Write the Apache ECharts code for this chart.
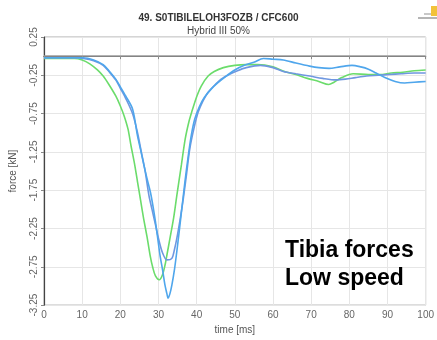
<!DOCTYPE html>
<html><head><meta charset="utf-8">
<script src="https://cdn.jsdelivr.net/npm/echarts@6/dist/echarts.min.js"></script>
<style>html,body{margin:0;padding:0;background:#fff}#c{width:437px;height:340px}</style>
</head><body><div id="c"></div>
<script>
const titleText = '49. S0TIBILELOH3FOZB / CFC600';
const subtitleText = 'Hybrid III 50%';
const xName = 'time [ms]';
const yName = 'force [kN]';
const annotation = 'Tibia forces\nLow speed';

const greenCurve = [[0,-0.03],[5,-0.03],[8,-0.03],[10,-0.05],[12,-0.1],[14,-0.18],[15.5,-0.26],[17,-0.37],[18.8,-0.52],[20,-0.65],[21,-0.78],[22,-0.95],[22.8,-1.17],[23.7,-1.4],[24.5,-1.64],[25.3,-1.88],[26.1,-2.12],[27,-2.36],[27.8,-2.6],[28.5,-2.76],[29.2,-2.87],[30.2,-2.92],[31,-2.86],[31.7,-2.73],[32.3,-2.57],[33,-2.38],[34,-2.1],[34.8,-1.82],[36,-1.42],[37,-1.08],[38,-0.85],[38.7,-0.73],[40,-0.53],[41.2,-0.39],[43,-0.26],[44.6,-0.2],[47,-0.15],[50,-0.12],[53,-0.11],[56,-0.11],[60,-0.14],[63,-0.2],[66,-0.24],[69,-0.29],[72,-0.33],[74.6,-0.37],[76,-0.34],[78,-0.28],[81,-0.23],[85,-0.24],[88,-0.24],[91,-0.22],[94,-0.21],[97,-0.19],[100,-0.18]];

const blueDeep = [[0,-0.02],[5,-0.02],[8,-0.02],[10.3,-0.02],[13,-0.05],[15.5,-0.11],[17,-0.19],[18.8,-0.3],[20,-0.4],[21.4,-0.52],[23.2,-0.69],[24.5,-1.04],[25.3,-1.22],[26.2,-1.43],[27,-1.6],[27.9,-1.78],[28.6,-1.97],[29.2,-2.16],[29.8,-2.38],[30.4,-2.6],[31.1,-2.8],[31.7,-2.99],[32.2,-3.1],[32.5,-3.16],[33,-3.1],[33.5,-2.99],[34.2,-2.78],[34.8,-2.55],[35.4,-2.3],[36,-2.04],[36.9,-1.65],[37.8,-1.3],[38.6,-1.03],[39.5,-0.82],[40.7,-0.66],[42,-0.54],[43.8,-0.43],[45.5,-0.35],[48,-0.25],[50,-0.18],[52.5,-0.12],[55,-0.08],[57.5,-0.03],[60,-0.04],[62.7,-0.05],[66,-0.09],[69.6,-0.13],[72,-0.15],[74.7,-0.16],[77.5,-0.14],[80.7,-0.12],[83,-0.14],[85,-0.17],[87,-0.22],[89.3,-0.28],[92,-0.33],[94.5,-0.35],[97,-0.34],[100,-0.33]];

const blueShallow = [[0,-0.02],[5,-0.02],[8,-0.02],[10.3,-0.03],[13,-0.06],[15.5,-0.12],[17,-0.2],[18.8,-0.31],[20,-0.42],[21.4,-0.55],[23.2,-0.75],[24.5,-1.0],[25.5,-1.25],[26.5,-1.5],[27.5,-1.82],[28.3,-2.0],[29.2,-2.2],[30,-2.38],[31,-2.56],[32.2,-2.66],[33.5,-2.64],[34.2,-2.52],[34.8,-2.38],[35.7,-2.12],[36.5,-1.86],[37.4,-1.52],[38.2,-1.21],[39.3,-0.94],[40.4,-0.73],[41.7,-0.58],[43,-0.47],[44.7,-0.38],[46.4,-0.3],[48.5,-0.24],[50.7,-0.19],[53,-0.15],[56.7,-0.12],[60,-0.15],[62.7,-0.2],[66,-0.23],[69.6,-0.26],[73,-0.29],[76.5,-0.31],[79,-0.3],[81.6,-0.28],[84.5,-0.26],[87.6,-0.25],[90.5,-0.24],[93.6,-0.23],[97,-0.22],[100,-0.22]];

const chart = echarts.init(document.getElementById('c'), null, {renderer:'canvas'});
const font = 'Liberation Sans';
function line(data, color){
  return {type:'line', data:data, showSymbol:false, smooth:0.3, animation:false,
    lineStyle:{color:color, width:1.6}, itemStyle:{color:color}};
}
const s0 = line(greenCurve, '#6bdc6b');
s0.markLine = {silent:true, symbol:'none', label:{show:false},
  lineStyle:{color:'#9a9a9a', width:1.5, type:'solid'}, data:[{yAxis:0}]};
chart.setOption({
  animation:false,
  textStyle:{fontFamily:font},
  title:[
    {text:titleText, left:'center', top:8, textStyle:{fontFamily:font, fontSize:10, fontWeight:'bold', color:'#333'}},
    {text:subtitleText, left:'center', top:21, textStyle:{fontFamily:font, fontSize:10, fontWeight:'normal', color:'#444'}}
  ],
  grid:{left:40, right:9, top:37, bottom:33, show:true, borderColor:'#aaa', borderWidth:1},
  xAxis:{type:'value', min:0, max:100, interval:10, name:xName, nameLocation:'middle', nameGap:18,
    nameTextStyle:{fontFamily:font, fontSize:10, color:'#555'},
    axisLine:{lineStyle:{color:'#444', width:1.2}}, axisTick:{show:true, length:3, lineStyle:{color:'#888'}},
    axisLabel:{fontFamily:font, fontSize:10, color:'#666', margin:5},
    splitLine:{show:true, lineStyle:{color:'#e6e6e6', width:1}}},
  yAxis:{type:'value', min:-3.25, max:0.25, interval:0.5, name:yName, nameLocation:'middle', nameGap:26,
    nameTextStyle:{fontFamily:font, fontSize:10, color:'#555'},
    axisLine:{show:true, lineStyle:{color:'#444', width:1.2}}, axisTick:{show:true, length:3, lineStyle:{color:'#888'}},
    axisLabel:{fontFamily:font, fontSize:10, color:'#666', rotate:90, margin:5},
    splitLine:{show:true, lineStyle:{color:'#e6e6e6', width:1}}},
  series:[s0, line(blueShallow, '#6f97e0'), line(blueDeep, '#4fa6ec')],
  graphic:[
    {type:'text', left:285, top:237, z:100, style:{text:annotation, font:'bold 23px "Liberation Sans"', fill:'#000', lineHeight:28}},
    {type:'rect', left:418, top:17, shape:{width:19, height:2}, style:{fill:'#b5b5b5'}},
    {type:'rect', left:424, top:13, shape:{width:13, height:2}, style:{fill:'#c8c8c8'}},
    {type:'rect', left:431, top:6, shape:{width:6, height:10}, style:{fill:'#f2c23a'}}
  ]
});
</script></body></html>
